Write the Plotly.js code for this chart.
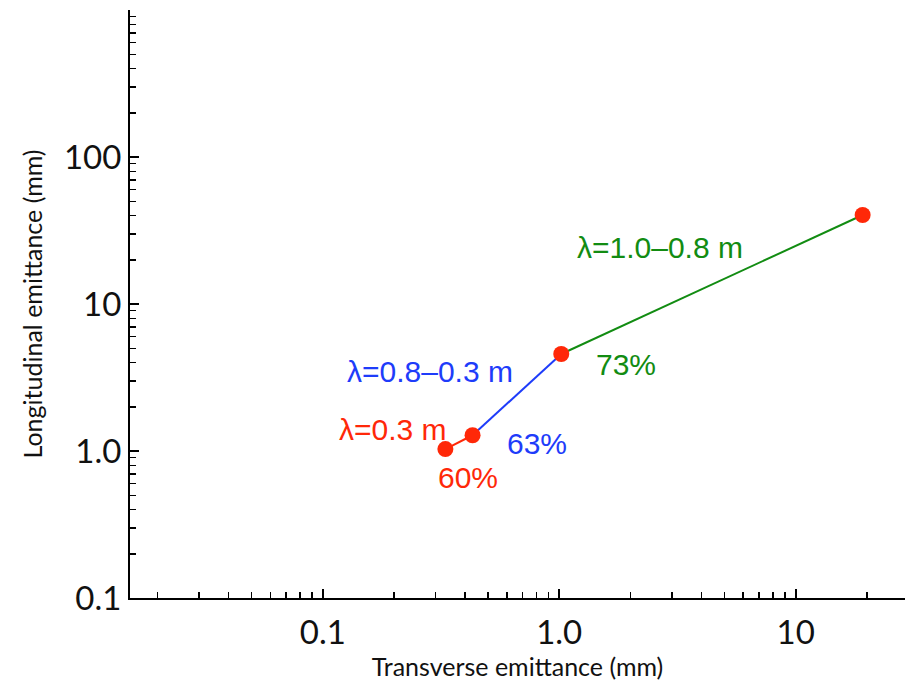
<!DOCTYPE html>
<html>
<head>
<meta charset="utf-8">
<script src="https://cdn.plot.ly/plotly-3.0.1.min.js"></script>
<style>html,body{margin:0;padding:0;background:#fff;}#chart{width:905px;height:690px;}</style>
</head>
<body>
<div id="chart"></div>
<script>
// Data
const transverse = [0.33, 0.43, 1.02, 19.2];     // mm
const longitudinal = [1.03, 1.28, 4.57, 40.3];   // mm
const segRed = [0, 1];
const segBlue = [1, 2];
const segGreen = [2, 3];
const xTickVals = [0.1, 1, 10];
const xTickText = ['0.1', '1.0', '10'];
const yTickVals = [0.1, 1, 10, 100];
const yTickText = ['0.1', '1.0', '10', '100'];
const labelTexts = ['λ=1.0–0.8 m', '73%', 'λ=0.8–0.3 m', '63%', 'λ=0.3 m', '60%'];
const labelAnchor = [3, 2, 2, 1, 0, 0];

const RED = 'rgb(255,40,8)';
const BLUE = 'rgb(30,60,250)';
const GREEN = 'rgb(18,140,18)';
const labelColors = [GREEN, GREEN, BLUE, BLUE, RED, RED];
const labelShift = [[-203, -32], [65, -11], [-131, -18], [64, -8], [-52, 20], [23, -28]];

function minorVals(lo, hi) {
  const v = [];
  for (let d = lo; d <= hi; d++) for (let k = 2; k <= 9; k++) v.push(k * Math.pow(10, d));
  return v;
}

function seg(idx, color) {
  return {
    x: idx.map(i => transverse[i]), y: idx.map(i => longitudinal[i]),
    mode: 'lines', type: 'scatter', line: {color: color, width: 2}, hoverinfo: 'skip', showlegend: false
  };
}

const traces = [
  seg(segRed, RED), seg(segBlue, BLUE), seg(segGreen, GREEN),
  {x: transverse, y: longitudinal, mode: 'markers', type: 'scatter',
   marker: {color: RED, size: 16}, showlegend: false}
];

const annotations = labelTexts.map((t, i) => ({
  x: Math.log10(transverse[labelAnchor[i]]), y: Math.log10(longitudinal[labelAnchor[i]]),
  xref: 'x', yref: 'y', text: t, showarrow: false,
  xanchor: 'center', yanchor: 'middle',
  xshift: labelShift[i][0], yshift: labelShift[i][1],
  font: {family: 'Liberation Sans, Arial, sans-serif', size: 30, color: labelColors[i]}
}));

const axisFont = {family: 'Lato, sans-serif', size: 33, color: '#111'};
const titleFont = {family: 'Lato, sans-serif', size: 25, color: '#111'};
const layout = {
  width: 905, height: 690,
  margin: {l: 130, r: 0, t: 10, b: 92},
  paper_bgcolor: '#fff', plot_bgcolor: '#fff',
  showlegend: false,
  xaxis: {
    type: 'log', range: [Math.log10(0.0153), Math.log10(29)],
    tickmode: 'array', tickvals: xTickVals, ticktext: xTickText,
    ticks: 'inside', ticklen: 9, tickwidth: 2, tickcolor: '#000',
    showline: true, linewidth: 2, linecolor: '#000', mirror: false,
    showgrid: false, zeroline: false,
    tickfont: axisFont, ticklabelstandoff: 4,
    minor: {tickmode: 'array', tickvals: minorVals(-2, 1), ticks: 'inside', ticklen: 6, tickwidth: 1.5, tickcolor: '#000', showgrid: false},
    title: {text: 'Transverse emittance (mm)', font: titleFont, standoff: 4}
  },
  yaxis: {
    type: 'log', range: [-1, 3],
    tickmode: 'array', tickvals: yTickVals, ticktext: yTickText,
    ticks: 'inside', ticklen: 9, tickwidth: 2, tickcolor: '#000',
    showline: true, linewidth: 2, linecolor: '#000', mirror: false,
    showgrid: false, zeroline: false,
    tickfont: axisFont,
    minor: {tickmode: 'array', tickvals: minorVals(-1, 2), ticks: 'inside', ticklen: 6, tickwidth: 1.5, tickcolor: '#000', showgrid: false},
    title: {text: 'Longitudinal emittance (mm)', font: titleFont, standoff: 14}
  },
  annotations: annotations
};

Plotly.newPlot('chart', traces, layout, {displayModeBar: false, staticPlot: true});
</script>
</body>
</html>
